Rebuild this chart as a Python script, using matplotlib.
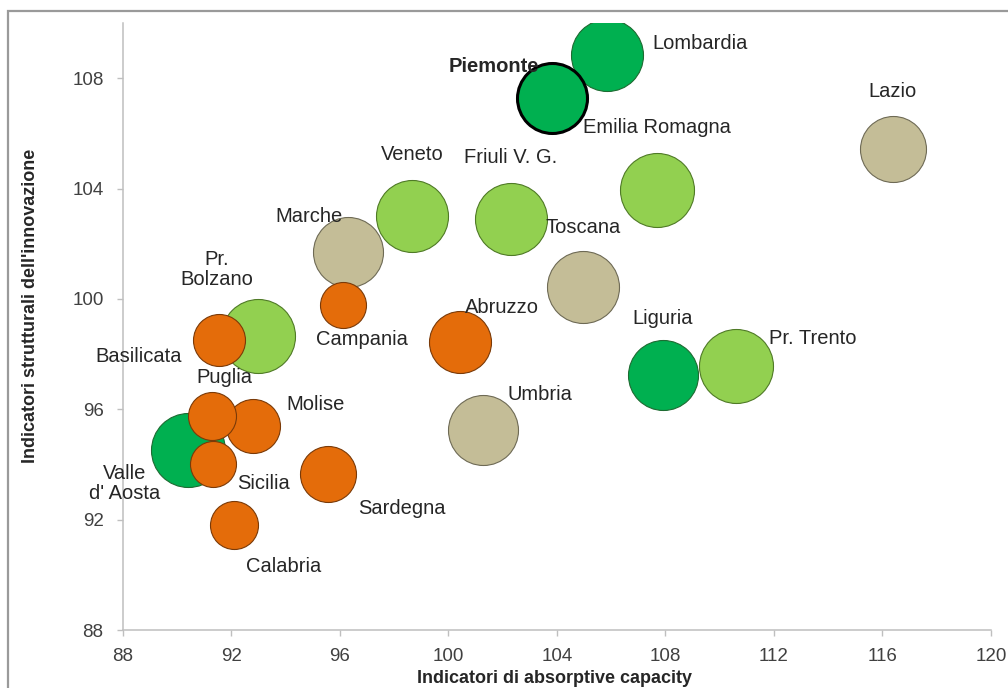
import matplotlib
matplotlib.use("Agg")
import matplotlib.pyplot as plt
from matplotlib.patches import Rectangle

plt.rcParams['font.family'] = ['Liberation Sans', 'DejaVu Sans']

# regioni, indicatori e dimensione della bolla
regioni = ["Lombardia", "Piemonte", "Emilia Romagna", "Lazio", "Veneto",
           "Friuli V. G.", "Marche", "Toscana", "Pr.\nBolzano", "Campania",
           "Abruzzo", "Basilicata", "Liguria", "Pr. Trento", "Umbria",
           "Puglia", "Molise", "Valle\nd' Aosta", "Sicilia", "Sardegna",
           "Calabria"]
absorptive = [105.84, 103.81, 107.68, 116.38, 98.65,
              102.30, 96.29, 104.96, 92.98, 96.11,
              100.42, 91.54, 107.90, 110.60, 101.27,
              91.28, 92.79, 90.40, 91.32, 95.56,
              92.09]
strutturali = [108.84, 107.27, 103.96, 105.42, 103.02,
               102.91, 101.71, 100.44, 98.65, 99.78,
               98.44, 98.51, 97.24, 97.56, 95.24,
               95.75, 95.38, 94.51, 94.00, 93.67,
               91.82]
dimensione = [36, 35, 37, 33, 36,
              36, 35, 36, 37, 23,
              31, 26, 35, 37, 35,
              24, 27, 37, 23, 28,
              24]
gruppo = ["alto", "alto", "medio-alto", "medio", "medio-alto",
          "medio-alto", "medio", "medio", "medio-alto", "basso",
          "basso", "basso", "alto", "medio-alto", "medio",
          "basso", "basso", "alto", "basso", "basso",
          "basso"]

colori = {"alto": ("#00B050", "#1E6B32"),
          "medio-alto": ("#92D050", "#4F7A26"),
          "medio": ("#C4BD97", "#6E6A55"),
          "basso": ("#E46C0A", "#7A3A08")}

# posizione delle etichette (offset in punti) e allineamento
etichette = {
    "Lombardia": (33, 8, "left"),
    "Piemonte": (-42, 23, "center"),
    "Emilia Romagna": (0, 45, "center"),
    "Lazio": (0, 42, "center"),
    "Veneto": (0, 44, "center"),
    "Friuli V. G.": (0, 44, "center"),
    "Marche": (-28, 25, "center"),
    "Toscana": (0, 43, "center"),
    "Pr.\nBolzano": (-30, 48, "center"),
    "Campania": (14, -25, "center"),
    "Abruzzo": (30, 25, "center"),
    "Basilicata": (-58, -12, "center"),
    "Liguria": (0, 41, "center"),
    "Pr. Trento": (24, 20, "left"),
    "Umbria": (41, 26, "center"),
    "Puglia": (9, 28, "center"),
    "Molise": (45, 16, "center"),
    "Valle\nd' Aosta": (-46, -24, "center"),
    "Sicilia": (36, -14, "center"),
    "Sardegna": (53, -25, "center"),
    "Calabria": (36, -30, "center"),
}

fig = plt.figure(figsize=(10.08, 6.88), dpi=100)
ax = fig.add_axes([0.122, 0.0843, 0.861, 0.8823])

# bolle grandi prima, Piemonte sopra a tutte
ordine = sorted(range(len(regioni)), key=lambda i: -dimensione[i])
ordine.remove(1)
ordine.append(1)
for i in ordine:
    fc, ec = colori[gruppo[i]]
    lw = 0.8
    if regioni[i] == "Piemonte":
        ec, lw = "black", 2.2
    ax.scatter(absorptive[i], strutturali[i], s=(1.44 * dimensione[i]) ** 2,
               color=fc, edgecolors=ec, linewidths=lw, zorder=3)

for i, nome in enumerate(regioni):
    dx, dy, ha = etichette[nome]
    peso = "bold" if nome == "Piemonte" else "normal"
    ax.annotate(nome, (absorptive[i], strutturali[i]), xytext=(dx, dy),
                textcoords="offset points", ha=ha, va="center",
                fontsize=14.5, color="#262626", fontweight=peso,
                linespacing=1.05, zorder=4)

ax.set_xlim(88, 120)
ax.set_ylim(88, 110)
ax.set_xticks(range(88, 121, 4))
ax.set_yticks(range(88, 109, 4))
for s in ["top", "right"]:
    ax.spines[s].set_visible(False)
for s in ["left", "bottom"]:
    ax.spines[s].set_color("#BFBFBF")
    ax.spines[s].set_linewidth(1.1)
ax.tick_params(axis="both", direction="out", length=4, width=1,
               color="#BFBFBF", labelsize=13.5, labelcolor="#404040")
ax.tick_params(axis="y", pad=10)
ax.tick_params(axis="x", pad=9)

fig.text(0.55, 0.014, "Indicatori di absorptive capacity", ha="center",
         va="center", fontsize=13, fontweight="bold", color="#262626")
fig.text(0.030, 1 - 306 / 688, "Indicatori strutturali dell'innovazione",
         rotation=90, ha="center", va="center", fontsize=13,
         fontweight="bold", color="#262626")

# cornice esterna
fig.patches.append(Rectangle((8 / 1008, -0.05), 1.1, 1 - 11 / 688 + 0.05,
                             transform=fig.transFigure, fill=False,
                             edgecolor="#9A9A9A", linewidth=1.6))

fig.savefig("out.png", dpi=100)
